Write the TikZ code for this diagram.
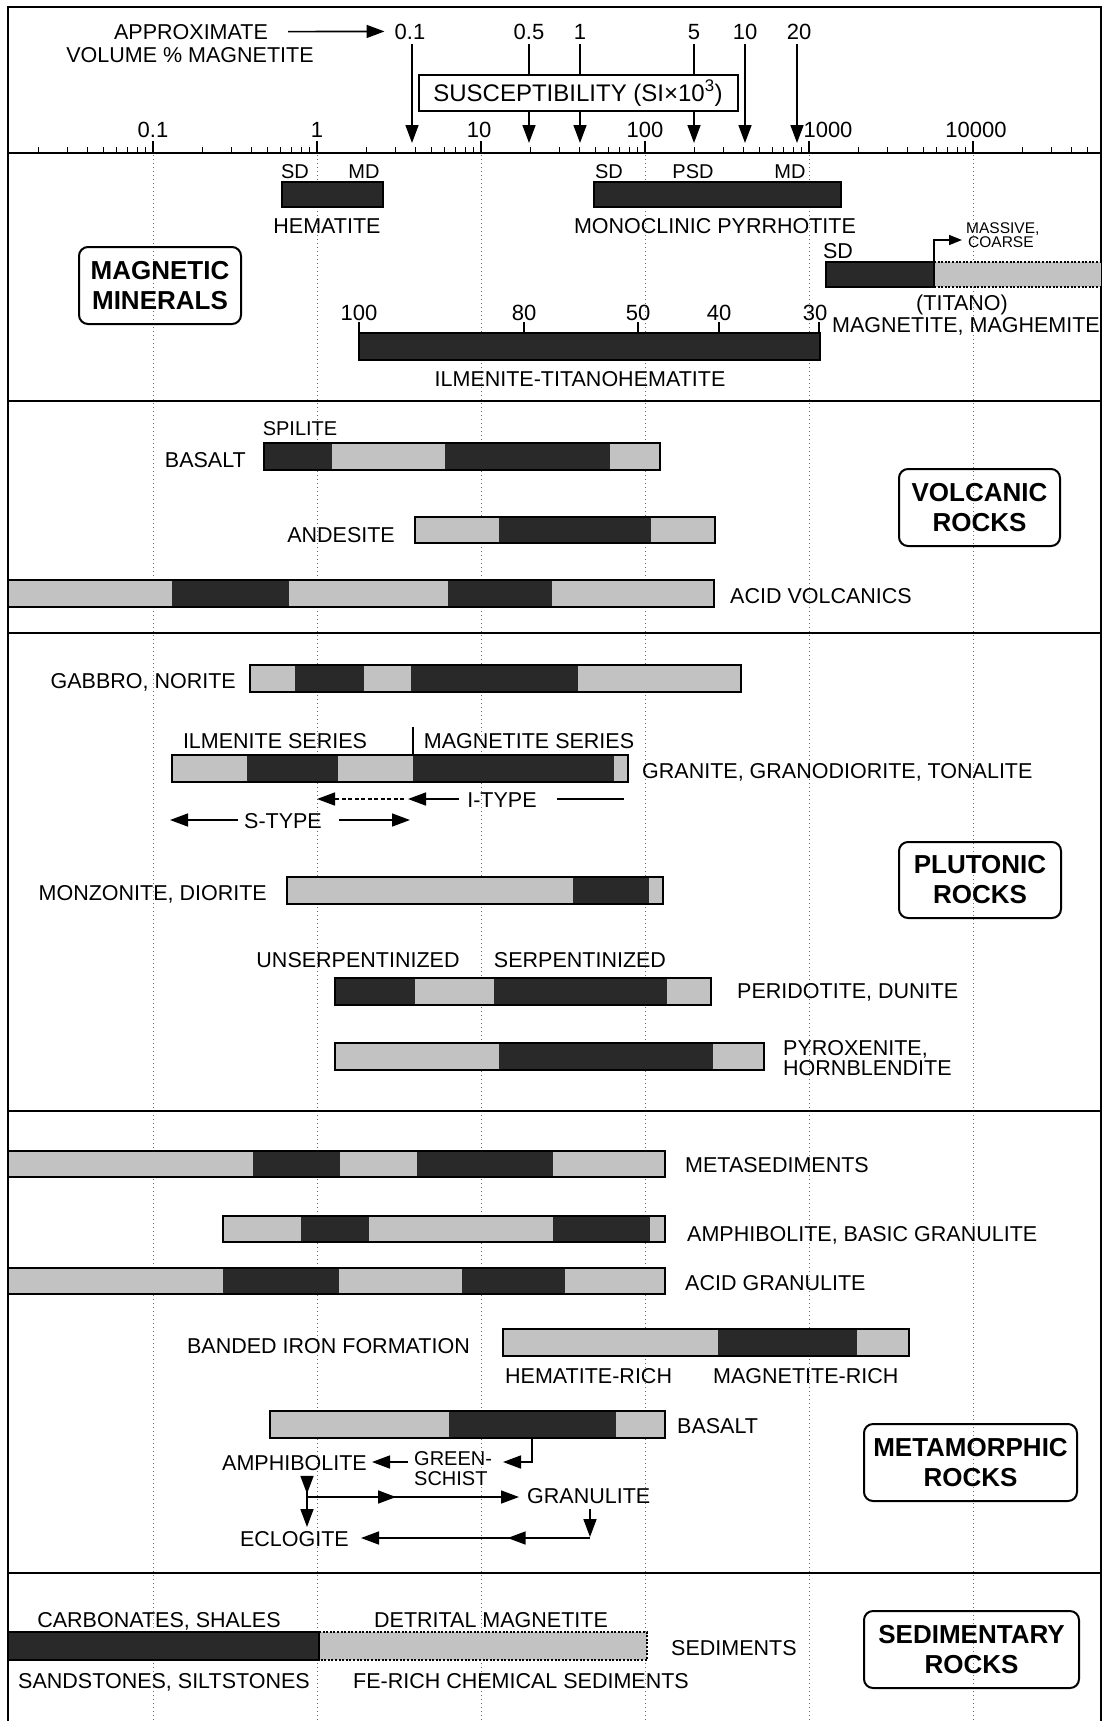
\documentclass[tikz,border=0pt]{standalone}
\usepackage{fontspec}
\setmainfont{Liberation Sans}
\usetikzlibrary{arrows.meta,decorations.markings}
\newcommand\segbar[3]{\foreach \a/\b/\s in {#3}{\fill[\s] (\a,#1) rectangle (\b,#2);}}
\begin{document}
\begin{tikzpicture}[x=1pt,y=-1pt,
  lbl/.style={inner sep=0pt,font=\fontsize{21.5}{24}\selectfont},
  sml/.style={inner sep=0pt,font=\fontsize{20}{22}\selectfont},
  num/.style={inner sep=0pt,font=\fontsize{22}{24}\selectfont},
  tiny/.style={inner sep=0pt,font=\fontsize{15.5}{16}\selectfont},
  rockbox/.style={draw,line width=2,rounded corners=9,align=center,inner sep=0pt,font=\bfseries\fontsize{26}{30}\selectfont},
  dk/.style={fill=black!84},
  lt/.style={fill=black!24},
  barline/.style={draw,line width=2},
  dotline/.style={line width=2,dash pattern=on 2pt off 1.6pt},
  grid/.style={black!60,line width=0.9,dash pattern=on 1.2pt off 2.8pt},
  frame/.style={line width=2},
  sep/.style={line width=2.5},
  tick/.style={line width=1.2},
  arr/.style={line width=1.6,-{Triangle[length=18pt,width=13pt]}},
  midarr/.style={postaction={decorate},decoration={markings,mark=at position #1 with {\arrow{Triangle[length=18pt,width=13pt]}}}}
]
\useasboundingbox (0,0) rectangle (1112,1721);
\fill[white] (0,0) rectangle (1112,1721);

% grid lines
\foreach \gx in {153,317,481,645,809,973} \draw[grid] (\gx,155) -- (\gx,1721);

% frame and separators
\draw[frame] (8,1721) -- (8,7) -- (1101,7) -- (1101,1721);
\foreach \sy in {401,633,1111,1573} \draw[sep] (8,\sy) -- (1101,\sy);
\draw[sep] (8,153) -- (1101,153);

% ticks
\foreach \d in {-1,...,4} \draw[tick] ({317+164*\d},153) -- ++(0,-12);
\foreach \d in {-2,...,4}{
  \foreach \m in {2,...,9}{
    \pgfmathsetmacro\tx{317+164*(\d+log10(\m))}
    \pgfmathtruncatemacro\ok{(\tx>12)&&(\tx<1097)}
    \ifnum\ok=1 \draw[tick] (\tx,153) -- ++(0,-6);\fi
  }
}

% axis labels
\node[num,anchor=base] (a1) at (153,137) {0.1};
\node[num,anchor=base] (a2) at (317,137) {1};
\node[num,anchor=base] (a3) at (479,137) {10};
\node[num,anchor=base] (a4) at (645,137) {100};
\node[num,anchor=base] (a5) at (828,137) {1000};
\node[num,anchor=base] (a6) at (976,137) {10000};

% top: volume % magnetite
\node[lbl,anchor=base] (appr) at (191,39) {APPROXIMATE};
\node[lbl,anchor=base] (vol) at (190,62) {VOLUME \% MAGNETITE};
\node[num,anchor=base] (p1) at (410,39) {0.1};
\node[num,anchor=base] (p2) at (529,39) {0.5};
\node[num,anchor=base] (p3) at (580,39) {1};
\node[num,anchor=base] (p4) at (694,39) {5};
\node[num,anchor=base] (p5) at (745,39) {10};
\node[num,anchor=base] (p6) at (799,39) {20};
\draw[arr] ([xshift=20pt]appr.east) -- ([xshift=-10pt]p1.west);
\coordinate (t1) at (412,143);
\coordinate (t2) at (529,143);
\coordinate (t3) at (580,143);
\coordinate (t4) at (694,143);
\coordinate (t5) at (745,143);
\coordinate (t6) at (797,143);
\draw[arr] (412,44) -- (t1);
\draw[arr] (529,44) -- (t2);
\draw[arr] (580,44) -- (t3);
\draw[arr] (694,44) -- (t4);
\draw[arr] (745,44) -- (t5);
\draw[arr] (797,44) -- (t6);
\node[draw,line width=2,fill=white,minimum width=319,minimum height=36,inner sep=0pt] (sbox) at (578,93) {};
\node[inner sep=0pt,font=\fontsize{24}{26}\selectfont,anchor=base] (stext) at (578,101) {SUSCEPTIBILITY (SI×10\textsuperscript{3})};

% ---- magnetic minerals ----
\segbar{182}{207}{282/383/dk}
\draw[barline] (282,182) rectangle (383,207);
\node[sml,anchor=base] (hsd) at (295,178) {SD};
\node[sml,anchor=base] (hmd) at (364,178) {MD};
\node[lbl,anchor=base] (hem) at (327,233) {HEMATITE};

\segbar{182}{207}{594/841/dk}
\draw[barline] (594,182) rectangle (841,207);
\node[sml,anchor=base] (psd1) at (609,178) {SD};
\node[sml,anchor=base] (psd2) at (693,178) {PSD};
\node[sml,anchor=base] (psd3) at (790,178) {MD};
\node[lbl,anchor=base] (pyr) at (715,233) {MONOCLINIC PYRRHOTITE};

\segbar{262}{287}{826/934/dk,934/1101/lt}
\draw[barline] (826,262) rectangle (934,287);
\draw[dotline] (934,262) -- (1101,262) (934,287) -- (1101,287);
\node[lbl,anchor=base] (msd) at (838,258) {SD};
\coordinate (mc0) at (934,262);
\coordinate (mc1) at (934,240);
\coordinate (mc2) at (962,240);
\draw[line width=1.5,-{Triangle[length=13pt,width=10pt]}] (mc0) -- (mc1) -- (mc2);
\node[tiny,anchor=base west] (mas) at (966,233) {MASSIVE,};
\node[tiny,anchor=base west] (coa) at (968,247) {COARSE};
\node[lbl,anchor=base] (tit) at (962,310) {(TITANO)};
\node[lbl,anchor=base] (mag) at (966,332) {MAGNETITE, MAGHEMITE};

\segbar{333}{360}{359/820/dk}
\draw[barline] (359,333) rectangle (820,360);
\foreach \ix in {359,524,638,719,819} \draw[tick] (\ix,333) -- (\ix,322);
\node[num,anchor=base] (i1) at (359,320) {100};
\node[num,anchor=base] (i2) at (524,320) {80};
\node[num,anchor=base] (i3) at (638,320) {50};
\node[num,anchor=base] (i4) at (719,320) {40};
\node[num,anchor=base] (i5) at (815,320) {30};
\node[lbl,anchor=base] (ilm) at (580,386) {ILMENITE-TITANOHEMATITE};

\node[rockbox,minimum width=162,minimum height=77] (mm) at (160,285.5) {MAGNETIC\\MINERALS};

% ---- volcanic ----
\segbar{443}{470}{264/332/dk,332/445/lt,445/610/dk,610/660/lt}
\draw[barline] (264,443) rectangle (660,470);
\node[sml,anchor=base] (spi) at (300,435) {SPILITE};
\node[lbl,anchor=base east] (bas) at (246,467) {BASALT};

\segbar{517}{543}{415/499/lt,499/651/dk,651/715/lt}
\draw[barline] (415,517) rectangle (715,543);
\node[lbl,anchor=base east] (and) at (395,542) {ANDESITE};

\segbar{580}{607}{8/172/lt,172/289/dk,289/448/lt,448/552/dk,552/714/lt}
\draw[barline] (8,580) rectangle (714,607);
\node[lbl,anchor=base west] (acv) at (730,603) {ACID VOLCANICS};

\node[rockbox,minimum width=161,minimum height=77] (vr) at (979.5,507.5) {VOLCANIC\\ROCKS};

% ---- plutonic ----
\segbar{665}{692}{250/295/lt,295/364/dk,364/411/lt,411/578/dk,578/741/lt}
\draw[barline] (250,665) rectangle (741,692);
\node[lbl,anchor=base east] (gab) at (236,688) {GABBRO, NORITE};

\segbar{755}{782}{172/247/lt,247/338/dk,338/413/lt,413/614/dk,614/628/lt}
\draw[barline] (172,755) rectangle (628,782);
\draw[line width=1.3] (413,755) -- (413,727);
\node[lbl,anchor=base] (ils) at (275,748) {ILMENITE SERIES};
\node[lbl,anchor=base] (mgs) at (529,748) {MAGNETITE SERIES};
\node[lbl,anchor=base west] (gra) at (642,778) {GRANITE, GRANODIORITE, TONALITE};

\node[lbl,anchor=base] (ity) at (502,807) {I-TYPE};
\coordinate (it0) at (624,799);
\coordinate (it1) at (557,799);
\coordinate (it2) at (459,799);
\coordinate (it3) at (408,799);
\coordinate (it4) at (404,799);
\coordinate (it5) at (317,799);
\draw[line width=1.6] (it0) -- (it1);
\draw[arr] (it2) -- (it3);
\draw[arr,dash pattern=on 4pt off 2.5pt] (it4) -- (it5);

\node[lbl,anchor=base] (sty) at (283,828) {S-TYPE};
\coordinate (st0) at (238,820);
\coordinate (st1) at (170,820);
\coordinate (st2) at (339,820);
\coordinate (st3) at (410,820);
\draw[arr] (st0) -- (st1);
\draw[arr] (st2) -- (st3);

\segbar{877}{904}{287/573/lt,573/649/dk,649/663/lt}
\draw[barline] (287,877) rectangle (663,904);
\node[lbl,anchor=base east] (mon) at (267,900) {MONZONITE, DIORITE};

\node[rockbox,minimum width=162,minimum height=76] (pr) at (980,880) {PLUTONIC\\ROCKS};

\node[lbl,anchor=base] (unse) at (358,967) {UNSERPENTINIZED};
\node[lbl,anchor=base] (serp) at (580,967) {SERPENTINIZED};
\segbar{978}{1005}{335/415/dk,415/494/lt,494/667/dk,667/711/lt}
\draw[barline] (335,978) rectangle (711,1005);
\node[lbl,anchor=base west] (per) at (737,998) {PERIDOTITE, DUNITE};

\segbar{1043}{1070}{335/499/lt,499/713/dk,713/764/lt}
\draw[barline] (335,1043) rectangle (764,1070);
\node[lbl,anchor=base west] (pyx) at (783,1055) {PYROXENITE,};
\node[lbl,anchor=base west] (hor) at (783,1075) {HORNBLENDITE};

% ---- metamorphic ----
\segbar{1151}{1177}{8/253/lt,253/340/dk,340/417/lt,417/553/dk,553/665/lt}
\draw[barline] (8,1151) rectangle (665,1177);
\node[lbl,anchor=base west] (mse) at (685,1172) {METASEDIMENTS};

\segbar{1216}{1242}{223/301/lt,301/369/dk,369/553/lt,553/650/dk,650/665/lt}
\draw[barline] (223,1216) rectangle (665,1242);
\node[lbl,anchor=base west] (amp) at (687,1241) {AMPHIBOLITE, BASIC GRANULITE};

\segbar{1268}{1294}{8/223/lt,223/339/dk,339/462/lt,462/565/dk,565/665/lt}
\draw[barline] (8,1268) rectangle (665,1294);
\node[lbl,anchor=base west] (agr) at (685,1290) {ACID GRANULITE};

\segbar{1329}{1356}{503/718/lt,718/857/dk,857/909/lt}
\draw[barline] (503,1329) rectangle (909,1356);
\node[lbl,anchor=base east] (bif) at (470,1353) {BANDED IRON FORMATION};
\node[lbl,anchor=base west] (hr) at (505,1383) {HEMATITE-RICH};
\node[lbl,anchor=base west] (mgr) at (713,1383) {MAGNETITE-RICH};

\segbar{1411}{1438}{270/449/lt,449/616/dk,616/665/lt}
\draw[barline] (270,1411) rectangle (665,1438);
\node[lbl,anchor=base west] (mbas) at (677,1433) {BASALT};

\node[sml,anchor=base west] (gre) at (414,1465) {GREEN-};
\node[sml,anchor=base west] (sch) at (414,1485) {SCHIST};
\node[lbl,anchor=base east] (amph) at (367,1470) {AMPHIBOLITE};
\node[lbl,anchor=base west] (gran) at (527,1503) {GRANULITE};
\node[lbl,anchor=base east] (ecl) at (349,1546) {ECLOGITE};

\coordinate (gs0) at (532,1438);
\coordinate (gs1) at (532,1462);
\coordinate (gs2) at (503,1462);
\draw[arr] (gs0) -- (gs1) -- (gs2);
\coordinate (ga0) at (408,1462);
\coordinate (ga1) at (372,1462);
\draw[arr] (ga0) -- (ga1);
\coordinate (am0) at (307,1476);
\coordinate (am1) at (307,1527);
\draw[arr,midarr=0.35] (am0) -- (am1);
\coordinate (ag0) at (307,1497);
\coordinate (ag1) at (519,1497);
\draw[arr,midarr=0.42] (ag0) -- (ag1);
\coordinate (gr0) at (590,1509);
\coordinate (gr1) at (590,1537);
\coordinate (gr2) at (590,1538);
\coordinate (gr3) at (361,1538);
\draw[arr] (gr0) -- (gr1);
\draw[arr,midarr=0.36] (gr2) -- (gr3);

\node[rockbox,minimum width=213,minimum height=77] (mr) at (970.5,1462.5) {METAMORPHIC\\ROCKS};

% ---- sedimentary ----
\segbar{1632}{1660}{8/319/dk,319/647/lt}
\draw[barline] (8,1632) rectangle (319,1660);
\draw[dotline] (319,1632) -- (647,1632) -- (647,1660) -- (319,1660);
\node[lbl,anchor=base] (carb) at (159,1627) {CARBONATES, SHALES};
\node[lbl,anchor=base] (detr) at (491,1627) {DETRITAL MAGNETITE};
\node[lbl,anchor=base] (sand) at (164,1688) {SANDSTONES, SILTSTONES};
\node[lbl,anchor=base] (fer) at (521,1688) {FE-RICH CHEMICAL SEDIMENTS};
\node[lbl,anchor=base west] (sed) at (671,1655) {SEDIMENTS};

\node[rockbox,minimum width=215,minimum height=77] (sr) at (971.5,1649.5) {SEDIMENTARY\\ROCKS};
\end{tikzpicture}
\end{document}
